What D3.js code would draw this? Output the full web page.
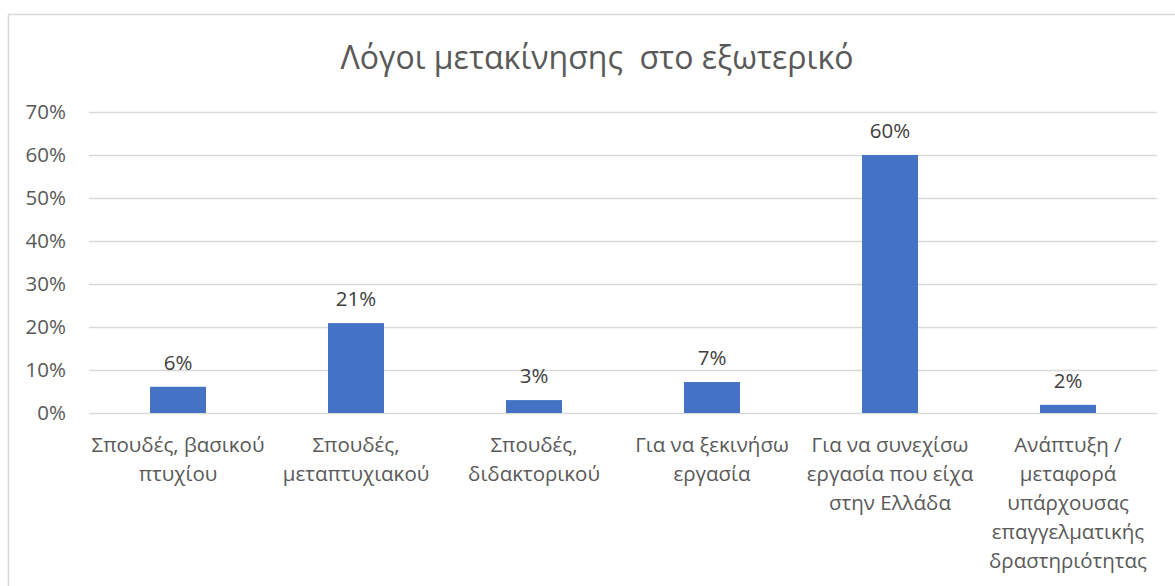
<!DOCTYPE html>
<html><head><meta charset="utf-8">
<script src="https://cdn.jsdelivr.net/npm/d3@7"></script>
<style>html,body{margin:0;padding:0;background:#fff;}svg{display:block;}</style>
</head><body>
<svg id="c" width="1175" height="586"></svg>
<script>
(function(){
const title = "Λόγοι μετακίνησης  στο εξωτερικό";
const categories = [
  ["Σπουδές, βασικού", "πτυχίου"],
  ["Σπουδές,", "μεταπτυχιακού"],
  ["Σπουδές,", "διδακτορικού"],
  ["Για να ξεκινήσω", "εργασία"],
  ["Για να συνεχίσω", "εργασία που είχα", "στην Ελλάδα"],
  ["Ανάπτυξη /", "μεταφορά", "υπάρχουσας", "επαγγελματικής", "δραστηριότητας"]
];
const values = [0.061, 0.209, 0.030, 0.072, 0.600, 0.019];
const valueLabels = ["6%", "21%", "3%", "7%", "60%", "2%"];
const yTicks = [0, 0.1, 0.2, 0.3, 0.4, 0.5, 0.6, 0.7];

const svg = d3.select("#c");
const font = "'Open Sans', 'Noto Sans', sans-serif";
const pLeft = 89, pRight = 1157, pTop = 112, pBottom = 413;
const fs = 20.5;

svg.append("rect").attr("x", 8.5).attr("y", 14.5).attr("width", 1200).attr("height", 620)
  .attr("fill", "#fff").attr("stroke", "#d9d9d9").attr("stroke-width", 1.5);

const x = d3.scaleBand().domain(d3.range(categories.length)).range([pLeft, pRight]);
const y = d3.scaleLinear().domain([0, 0.7]).range([pBottom, pTop]);

svg.append("g").selectAll("line").data(yTicks).join("line")
  .attr("x1", pLeft).attr("x2", pRight)
  .attr("y1", d => Math.round(y(d)) + 0.5).attr("y2", d => Math.round(y(d)) + 0.5)
  .attr("stroke", "#d9d9d9").attr("stroke-width", 1.3);

const yAxis = d3.axisLeft(y).tickValues(yTicks).tickFormat(d3.format(".0%")).tickSize(0).tickPadding(0);
const ga = svg.append("g").attr("transform", "translate(66,0)").call(yAxis);
ga.select(".domain").remove();
ga.selectAll("text").attr("font-family", font).attr("font-size", fs).attr("fill", "#595959");

const bw = 56;
svg.append("g").selectAll("rect").data(values).join("rect")
  .attr("x", (d, i) => x(i) + x.bandwidth() / 2 - bw / 2)
  .attr("width", bw)
  .attr("y", d => y(d))
  .attr("height", d => y(0) - y(d))
  .attr("fill", "#4472c4");

svg.append("g").selectAll("text").data(values).join("text")
  .attr("x", (d, i) => x(i) + x.bandwidth() / 2)
  .attr("y", d => y(d) - 17)
  .attr("text-anchor", "middle")
  .attr("font-family", font).attr("font-size", fs).attr("fill", "#404040")
  .text((d, i) => valueLabels[i]);

const cg = svg.append("g");
categories.forEach((lines, i) => {
  const t = cg.append("text")
    .attr("text-anchor", "middle")
    .attr("font-family", font).attr("font-size", fs).attr("fill", "#595959");
  lines.forEach((ln, j) => {
    t.append("tspan").attr("x", x(i) + x.bandwidth() / 2).attr("y", 452 + j * 29).text(ln);
  });
});

svg.append("text").attr("x", 597).attr("y", 69).attr("text-anchor", "middle")
  .style("white-space", "pre")
  .attr("font-family", font).attr("font-size", 32).attr("fill", "#595959").text(title);
})();
</script>
</body></html>
